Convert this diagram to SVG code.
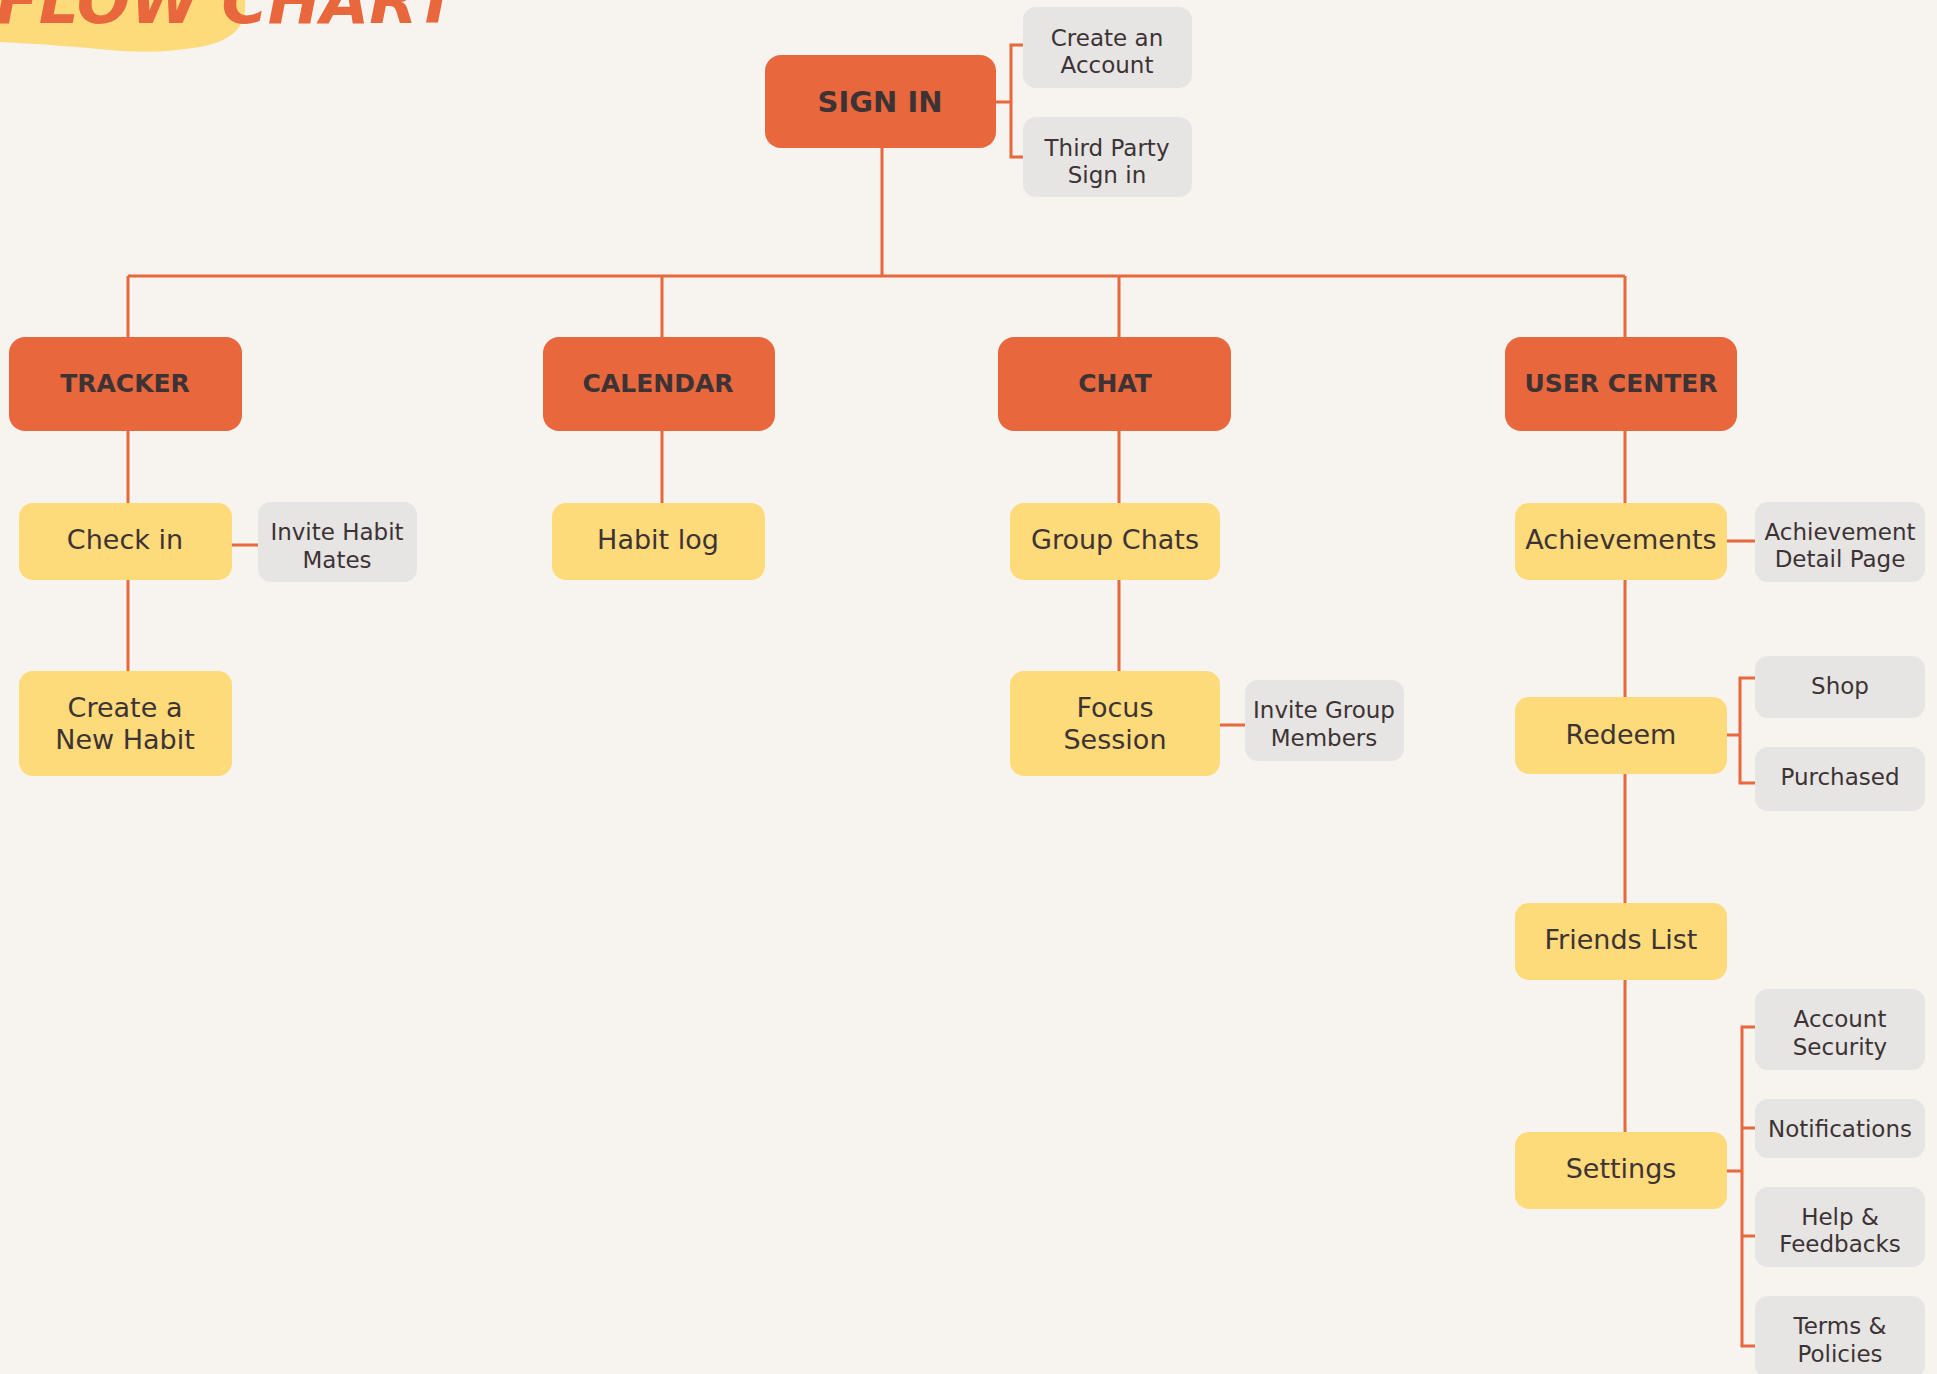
<svg xmlns="http://www.w3.org/2000/svg" width="1937" height="1374" viewBox="0 0 1937 1374">
<style>
.bg{fill:#F7F4EF}
.hdr rect{fill:#E8673C}
.sub rect{fill:#FDDA7A}
.opt rect{fill:#E6E5E3}
text{font-family:"DejaVu Sans","Liberation Sans",sans-serif;fill:#3D3335;text-anchor:middle}
.hdr text{font-weight:bold;font-size:25px}
.sub text{font-size:27px}
.opt text{font-size:23px}
#connectors path{fill:none;stroke:#E8673C;stroke-width:3}
</style>
<rect class="bg" x="0" y="0" width="1937" height="1374"/>
<g id="title">
<path d="M0,0 L245,0 C247,22 238,40 200,47 C170,52 140,53 110,50 C80,47 40,44 0,42 Z" fill="#FDDA7A"/>
<text x="458" y="23" style="font-family:'DejaVu Sans',sans-serif;font-weight:bold;font-style:oblique;font-size:63px;fill:#E8673C;text-anchor:end">FLOW CHART</text>
</g>
<g id="connectors">
<path d="M882,148 V276 M128,276 H1625 M128,276 V337 M662,276 V337 M1119,276 V337 M1625,276 V337"/>
<path d="M996,102 H1011 M1023,45 H1011 V157 H1023"/>
<path d="M128,431 V503 M128,580 V671 M232,545 H258"/>
<path d="M662,431 V503"/>
<path d="M1119,431 V503 M1119,580 V671 M1220,725 H1245"/>
<path d="M1625,431 V503 M1625,580 V697 M1625,774 V903 M1625,980 V1132"/>
<path d="M1727,541 H1755"/>
<path d="M1727,735 H1740 M1755,678 H1740 V783 H1755"/>
<path d="M1725,1171 H1742 M1755,1027 H1742 V1346 H1755 M1742,1128 H1755 M1742,1236 H1755"/>
</g>
<g id="sign-in" class="hdr"><rect x="765" y="55" width="231" height="93" rx="16"/><text x="880" y="112" style="font-size:29px">SIGN IN</text></g>
<g id="create-account" class="opt"><rect x="1023" y="7" width="169" height="81" rx="13"/><text x="1107" y="46">Create an</text><text x="1107" y="73">Account</text></g>
<g id="third-party" class="opt"><rect x="1023" y="117" width="169" height="80" rx="13"/><text x="1107" y="156">Third Party</text><text x="1107" y="183">Sign in</text></g>

<g id="tracker" class="hdr"><rect x="9" y="337" width="233" height="94" rx="16"/><text x="125" y="392">TRACKER</text></g>
<g id="check-in" class="sub"><rect x="19" y="503" width="213" height="77" rx="14"/><text x="125" y="549">Check in</text></g>
<g id="invite-habit-mates" class="opt"><rect x="258" y="502" width="159" height="80" rx="13"/><text x="337" y="540">Invite Habit</text><text x="337" y="568">Mates</text></g>
<g id="create-habit" class="sub"><rect x="19" y="671" width="213" height="105" rx="14"/><text x="125" y="717">Create a</text><text x="125" y="749">New Habit</text></g>

<g id="calendar" class="hdr"><rect x="543" y="337" width="232" height="94" rx="16"/><text x="658" y="392">CALENDAR</text></g>
<g id="habit-log" class="sub"><rect x="552" y="503" width="213" height="77" rx="14"/><text x="658" y="549">Habit log</text></g>

<g id="chat" class="hdr"><rect x="998" y="337" width="233" height="94" rx="16"/><text x="1115" y="392">CHAT</text></g>
<g id="group-chats" class="sub"><rect x="1010" y="503" width="210" height="77" rx="14"/><text x="1115" y="549">Group Chats</text></g>
<g id="focus-session" class="sub"><rect x="1010" y="671" width="210" height="105" rx="14"/><text x="1115" y="717">Focus</text><text x="1115" y="749">Session</text></g>
<g id="invite-group" class="opt"><rect x="1245" y="680" width="159" height="81" rx="13"/><text x="1324" y="718">Invite Group</text><text x="1324" y="746">Members</text></g>

<g id="user-center" class="hdr"><rect x="1505" y="337" width="232" height="94" rx="16"/><text x="1621" y="392">USER CENTER</text></g>
<g id="achievements" class="sub"><rect x="1515" y="503" width="212" height="77" rx="14"/><text x="1621" y="549">Achievements</text></g>
<g id="achievement-detail" class="opt"><rect x="1755" y="502" width="170" height="80" rx="13"/><text x="1840" y="540">Achievement</text><text x="1840" y="567">Detail Page</text></g>
<g id="redeem" class="sub"><rect x="1515" y="697" width="212" height="77" rx="14"/><text x="1621" y="744">Redeem</text></g>
<g id="shop" class="opt"><rect x="1755" y="656" width="170" height="62" rx="13"/><text x="1840" y="694">Shop</text></g>
<g id="purchased" class="opt"><rect x="1755" y="747" width="170" height="64" rx="13"/><text x="1840" y="785">Purchased</text></g>
<g id="friends-list" class="sub"><rect x="1515" y="903" width="212" height="77" rx="14"/><text x="1621" y="949">Friends List</text></g>
<g id="settings" class="sub"><rect x="1515" y="1132" width="212" height="77" rx="14"/><text x="1621" y="1178">Settings</text></g>
<g id="account-security" class="opt"><rect x="1755" y="989" width="170" height="81" rx="13"/><text x="1840" y="1027">Account</text><text x="1840" y="1055">Security</text></g>
<g id="notifications" class="opt"><rect x="1755" y="1099" width="170" height="59" rx="13"/><text x="1840" y="1137">Notifications</text></g>
<g id="help-feedbacks" class="opt"><rect x="1755" y="1187" width="170" height="80" rx="13"/><text x="1840" y="1225">Help &amp;</text><text x="1840" y="1252">Feedbacks</text></g>
<g id="terms-policies" class="opt"><rect x="1755" y="1296" width="170" height="82" rx="13"/><text x="1840" y="1334">Terms &amp;</text><text x="1840" y="1362">Policies</text></g>
</svg>
